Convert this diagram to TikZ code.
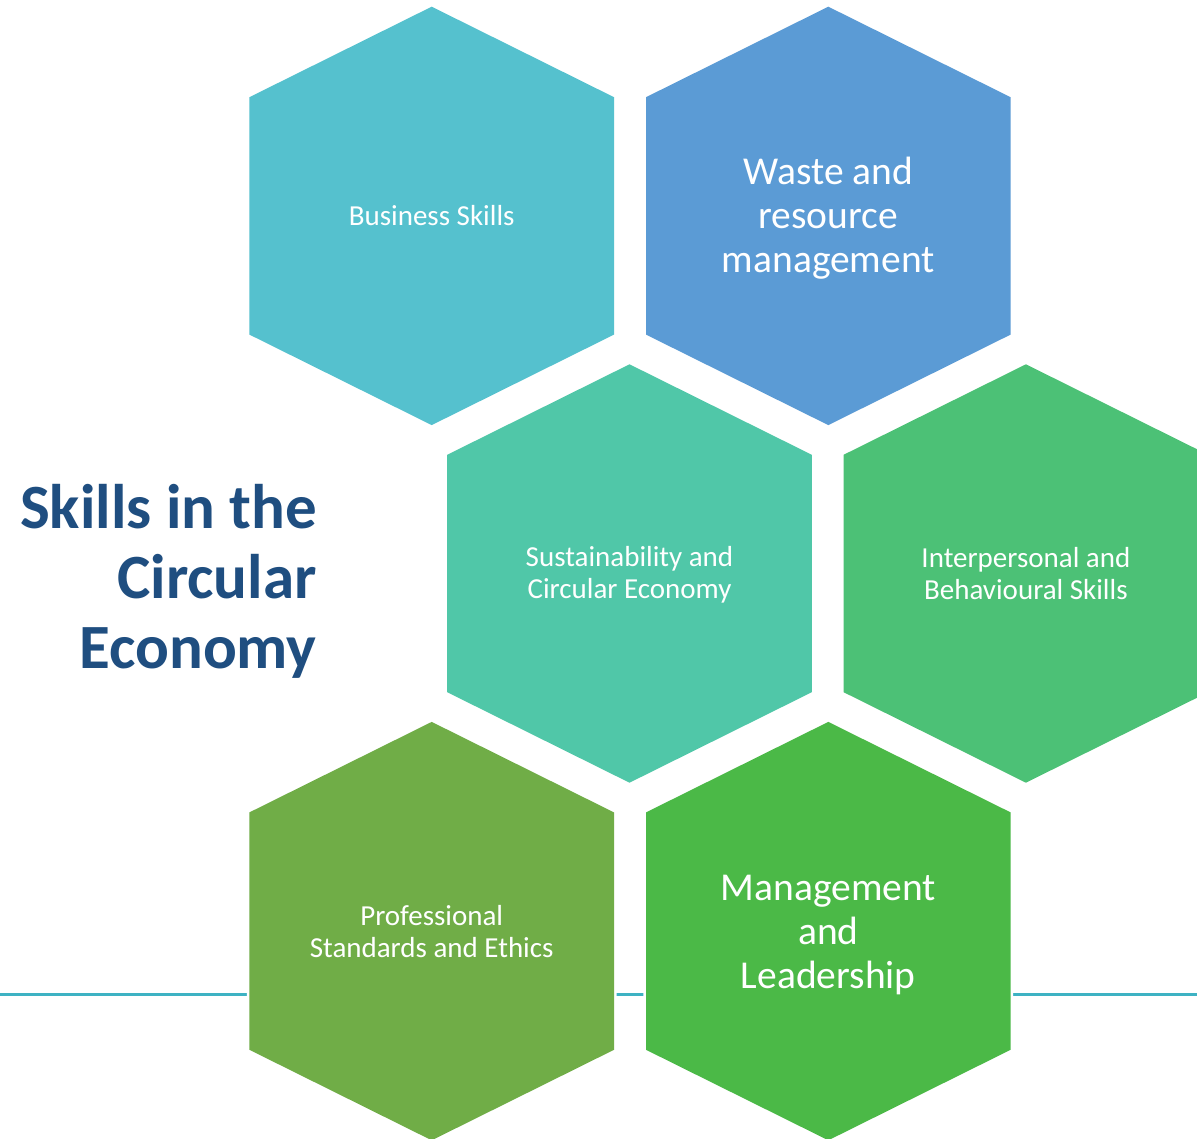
\documentclass[tikz,border=0pt]{standalone}
\usepackage{fontspec}
\setmainfont{Carlito}
\definecolor{cBus}{RGB}{85,193,206}
\definecolor{cWaste}{RGB}{91,155,213}
\definecolor{cSus}{RGB}{80,199,168}
\definecolor{cInt}{RGB}{76,193,118}
\definecolor{cPro}{RGB}{112,173,71}
\definecolor{cMan}{RGB}{75,185,71}
\definecolor{cTitle}{RGB}{31,78,128}
\definecolor{cLine}{RGB}{62,178,195}
\newcommand{\hexat}[3]{%
  \path[hexstyle, fill=#3] (#1,#2) ++(0,-209.2) -- ++(182.3,90.5) -- ++(0,237.4)
    -- ++(-182.3,90.5) -- ++(-182.3,-90.5) -- ++(0,-237.4) -- cycle;}
\tikzset{
  hexstyle/.style={preaction={draw=white, line width=5.2pt, line join=miter}},
  smalltxt/.style={text=white, align=center, inner sep=0pt, font=\fontsize{29}{32}\selectfont},
  bigtxt/.style={text=white, align=center, inner sep=0pt, font=\fontsize{39.5}{44}\selectfont},
}
\begin{document}
\begin{tikzpicture}[x=1pt,y=-1pt]
\useasboundingbox (0,0) rectangle (1197,1139);
% baseline rule
\coordinate (lineL) at (0,994.3);
\coordinate (lineR) at (1197,994.3);
\draw[cLine, line width=2.4pt] (lineL) -- (lineR);
% hexagons
\hexat{431.7}{215.9}{cBus}
\hexat{828.3}{215.9}{cWaste}
\hexat{629.5}{573.5}{cSus}
\hexat{1025.9}{573.5}{cInt}
\hexat{431.7}{931.1}{cPro}
\hexat{828.3}{931.1}{cMan}
% labels
\node[smalltxt] (bus) at (431.7,215.9) {Business Skills};
\node[bigtxt] (waste) at (828.3,218) {Waste and\\resource\\management};
\node[smalltxt] (sus) at (629.5,575) {Sustainability and\\Circular Economy};
\node[smalltxt] (int) at (1025.9,573.5) {Interpersonal and\\Behavioural Skills};
\node[smalltxt] (pro) at (431.7,931.1) {Professional\\Standards and Ethics};
\node[bigtxt] (man) at (828.3,935) {Management\\and\\Leadership};
% title
\node[anchor=east, align=right, inner sep=0pt, text=cTitle,
      font=\bfseries\fontsize{63}{70}\selectfont] (title) at (317,581) {Skills in the\\Circular\\Economy};
\end{tikzpicture}
\end{document}
